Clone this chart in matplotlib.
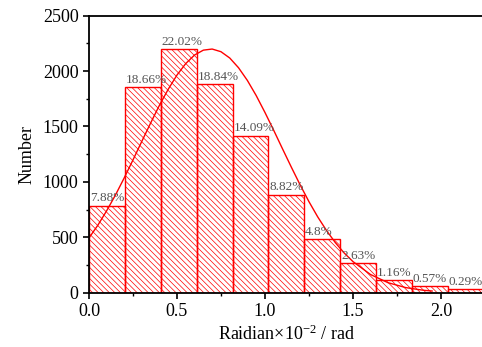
import numpy as np
import matplotlib
matplotlib.use("Agg")
import matplotlib.pyplot as plt

plt.rcParams['font.family'] = ['Liberation Serif', 'DejaVu Serif']
plt.rcParams['mathtext.fontset'] = 'custom'
plt.rcParams['mathtext.rm'] = 'Liberation Serif'
plt.rcParams['mathtext.it'] = 'Liberation Serif:italic'
plt.rcParams['hatch.linewidth'] = 0.5
plt.rcParams['hatch.color'] = '#ff5a5a'

# histogram data
bin_width = 0.204
counts = [782, 1854, 2197, 1881, 1414, 882, 482, 265, 112, 58, 31]
labels = ['7.88%', '18.66%', '22.02%', '18.84%', '14.09%', '8.82%',
          '4.8%', '2.63%', '1.16%', '0.57%', '0.29%']

# fitted curve
fit_x = [0.0, 0.05, 0.1, 0.15, 0.2, 0.25, 0.3, 0.35, 0.4, 0.45, 0.5,
         0.55, 0.6, 0.65, 0.7, 0.75, 0.8, 0.85, 0.9, 0.95, 1.0, 1.05,
         1.1, 1.15, 1.2, 1.25, 1.3, 1.35, 1.4, 1.45, 1.5, 1.6, 1.7,
         1.8, 1.9, 1.95]
fit_y = [494, 608, 738, 880, 1035, 1198, 1365, 1530, 1690, 1835, 1964,
         2068, 2145, 2189, 2199, 2175, 2118, 2030, 1916, 1780, 1627, 1465,
         1298, 1133, 973, 822, 684, 561, 452, 359, 281, 164, 90,
         46, 22, 15]

fig = plt.figure(figsize=(4.82, 3.47), dpi=100)
ax = fig.add_axes([0.1846, 0.1565, 0.8214, 0.7983])

lefts = np.arange(len(counts)) * bin_width
ax.bar(lefts, counts, width=bin_width, align='edge', color='none',
       edgecolor='red', linewidth=1.0, hatch='\\' * 6)

for x, c, lab in zip(lefts, counts, labels):
    ax.text(x + 0.005, c + 15, lab, fontsize=9.5, color='#555555',
            ha='left', va='bottom')

ax.plot(fit_x, fit_y, color='red', linewidth=1.0)

ax.set_xlim(0, 2.25)
ax.set_ylim(0, 2500)
ax.set_xticks([0.0, 0.5, 1.0, 1.5, 2.0])
ax.set_xticks([0.25, 0.75, 1.25, 1.75], minor=True)
ax.set_yticks([0, 500, 1000, 1500, 2000, 2500])
ax.set_yticks([250, 750, 1250, 1750, 2250], minor=True)
ax.tick_params(which='major', direction='out', length=4, width=1.2,
               labelsize=13, top=False, right=False)
ax.tick_params(which='minor', direction='out', length=2.5, width=1.0,
               top=False, right=False)

for s in ['left', 'bottom', 'top']:
    ax.spines[s].set_linewidth(1.3)
ax.spines['right'].set_visible(False)

ax.set_xlabel('Raidian×10$^{-2}$ / rad', fontsize=13, labelpad=3)
ax.set_ylabel('Number', fontsize=13, labelpad=5)

fig.savefig('out.png', dpi=100)
